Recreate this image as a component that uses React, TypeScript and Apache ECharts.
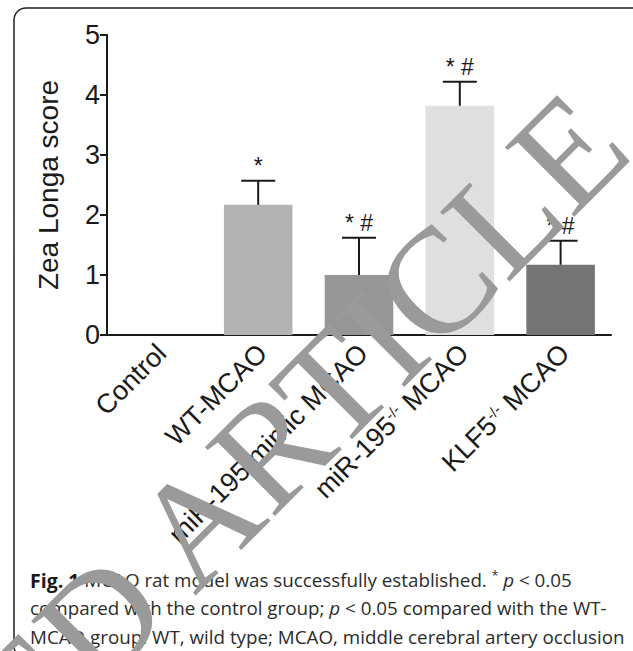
import React, { useEffect, useRef } from "react";
import * as echarts from "echarts";

const categories = ["Control", "WT-MCAO", "miR-195 mimic MCAO", "miR-195-/- MCAO", "KLF5-/- MCAO"];
const means = [0, 2.17, 1.0, 3.82, 1.17];
const upperErrors = [0, 2.57, 1.62, 4.22, 1.57];
const annotations = ["", "*", "* #", "* #", "* #"];
const barColors = ["#b3b3b3", "#b3b3b3", "#969696", "#dfdfdf", "#747474"];
const yTicks = [0, 1, 2, 3, 4, 5];

const FONT = "Liberation Sans";
const CAP_FONT = "Open Sans";
const CAP_SIZE = 18.8;

export default function App() {
  const ref = useRef<HTMLDivElement>(null);
  useEffect(() => {
    document.body.style.margin = "0";
    const chart = echarts.init(ref.current!, null, { renderer: "svg" });
    const labelFormatter = (v: string) => {
      const m = v.match(/^(.*?)-\/-(.*)$/);
      if (m) return `{n|${m[1]}}{sup|-/-}{n|${m[2]}}`;
      return `{n|${v}}`;
    };
    chart.setOption({
      animation: false,
      backgroundColor: "#ffffff",
      grid: { left: 107, right: 22, top: 35, bottom: 316, containLabel: false },
      xAxis: {
        type: "category",
        data: categories,
        boundaryGap: true,
        axisLine: { lineStyle: { color: "#1a1a1a", width: 2 } },
        axisTick: { alignWithLabel: true, length: 9, lineStyle: { color: "#1a1a1a", width: 2 } },
        axisLabel: {
          rotate: 45,
          margin: 18,
          padding: [0, -6, 0, 0],
          interval: 0,
          formatter: labelFormatter,
          rich: {
            n: { fontSize: 27, fontFamily: FONT, color: "#1a1a1a" },
            sup: { fontSize: 15, fontFamily: FONT, color: "#1a1a1a", padding: [0, 0, 12, 0] },
          },
        },
      },
      yAxis: {
        type: "value",
        min: yTicks[0],
        max: yTicks[yTicks.length - 1],
        interval: 1,
        name: "Zea Longa score",
        nameLocation: "middle",
        nameGap: 45,
        nameTextStyle: { fontSize: 28, fontFamily: FONT, color: "#1a1a1a" },
        splitLine: { show: false },
        axisLine: { show: true, lineStyle: { color: "#1a1a1a", width: 2 } },
        axisTick: { show: true, length: 7, lineStyle: { color: "#1a1a1a", width: 2 } },
        axisLabel: { fontSize: 27, fontFamily: FONT, color: "#1a1a1a", margin: 7 },
      },
      series: [
        {
          type: "bar",
          barWidth: "68%",
          data: means.map((v, i) => ({ value: v, itemStyle: { color: barColors[i] } })),
        },
        {
          type: "custom",
          data: means.map((m, i) => [i, m, upperErrors[i]]),
          z: 5,
          renderItem: (params: any, api: any) => {
            const idx = api.value(0);
            const m = api.value(1);
            const e = api.value(2);
            const p0 = api.coord([idx, m]);
            const p1 = api.coord([idx, e]);
            const children: any[] = [];
            const ls = { stroke: "#1a1a1a", lineWidth: 2 };
            if (e > m) {
              children.push({ type: "line", shape: { x1: p0[0], y1: p0[1], x2: p1[0], y2: p1[1] }, style: ls });
              children.push({ type: "line", shape: { x1: p1[0] - 17, y1: p1[1], x2: p1[0] + 17, y2: p1[1] }, style: ls });
            }
            const lab = annotations[params.dataIndex];
            if (lab) {
              children.push({
                type: "text",
                style: {
                  text: lab,
                  x: p1[0],
                  y: p1[1] - 3,
                  align: "center",
                  verticalAlign: "bottom",
                  fontSize: 23,
                  fontFamily: FONT,
                  fill: "#1a1a1a",
                },
              });
            }
            return { type: "group", children };
          },
        },
      ],
      graphic: [
        {
          type: "rect",
          shape: { x: 14, y: 8, width: 640, height: 650, r: 12 },
          style: { fill: "none", stroke: "#222222", lineWidth: 1.5 },
          z: 1,
        },
        {
          type: "text",
          x: 30,
          y: 580,
          style: {
            text: "{b|Fig. 1} MCAO rat model was successfully established. {s|*} {i|p} < 0.05",
            fontSize: CAP_SIZE,
            fontFamily: CAP_FONT,
            fill: "#2b2b2b",
            verticalAlign: "middle",
            rich: {
              b: { fontWeight: "bold", fontSize: 19.5, fontFamily: CAP_FONT, fill: "#1a1a1a" },
              i: { fontStyle: "italic", fontSize: CAP_SIZE, fontFamily: CAP_FONT, fill: "#2b2b2b" },
              s: { fontSize: 12, fontFamily: CAP_FONT, fill: "#2b2b2b", padding: [0, 0, 10, 0] },
            },
          },
          z: 10,
        },
        {
          type: "text",
          x: 30,
          y: 608,
          style: {
            text: "compared with the control group; {i|p} < 0.05 compared with the WT-",
            fontSize: CAP_SIZE,
            fontFamily: CAP_FONT,
            fill: "#2b2b2b",
            verticalAlign: "middle",
            rich: {
              i: { fontStyle: "italic", fontSize: CAP_SIZE, fontFamily: CAP_FONT, fill: "#2b2b2b" },
            },
          },
          z: 10,
        },
        {
          type: "text",
          x: 30,
          y: 637,
          style: {
            text: "MCAO group. WT, wild type; MCAO, middle cerebral artery occlusion",
            fontSize: CAP_SIZE,
            fontFamily: CAP_FONT,
            fill: "#2b2b2b",
            verticalAlign: "middle",
          },
          z: 10,
        },
        {
          type: "text",
          x: 600,
          y: 119,
          rotation: Math.PI / 4,
          style: {
            text: "RETRACTED ARTICLE",
            fontSize: 150,
            fontFamily: "Liberation Serif",
            fill: "#9a9a9a",
            align: "right",
            verticalAlign: "middle",
          },
          z: 100,
        },
      ],
    });
    return () => chart.dispose();
  }, []);
  return <div ref={ref} style={{ width: 633, height: 651 }} />;
}
